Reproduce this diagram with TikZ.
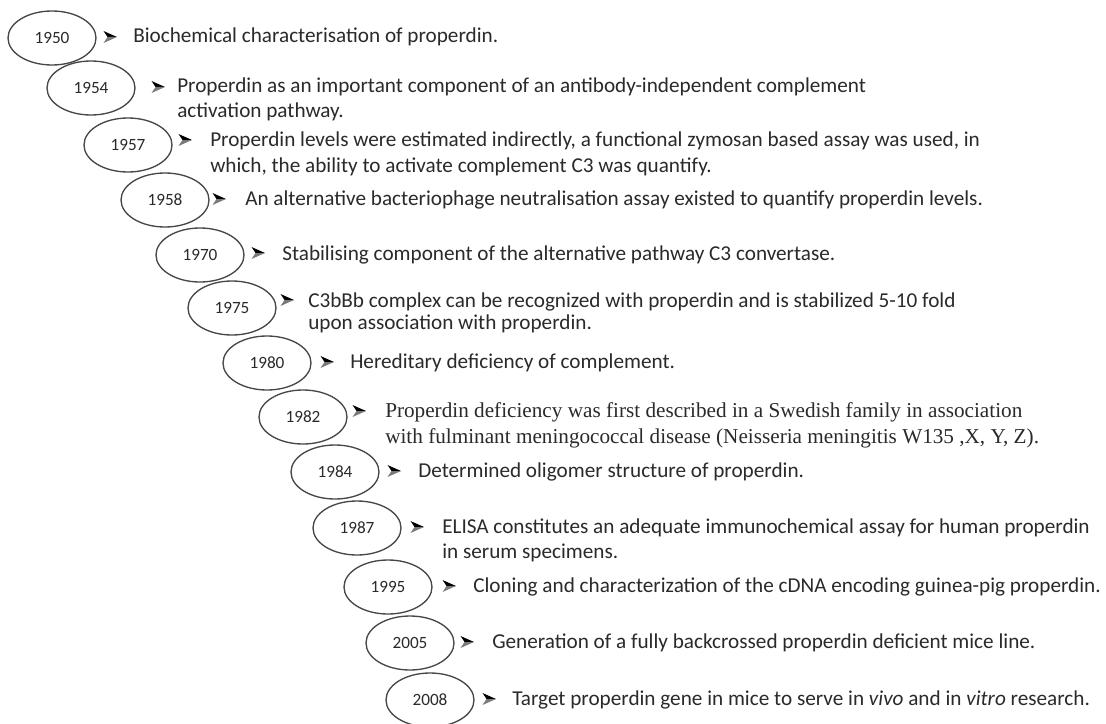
\documentclass[tikz,border=0pt]{standalone}
\usepackage{fontspec}
\setmainfont{Carlito}
\newfontfamily\timesf{Liberation Serif}
\usetikzlibrary{shapes.geometric}
\definecolor{ink}{HTML}{2A2A2A}
\definecolor{ring}{HTML}{474747}
\definecolor{ahlow}{HTML}{7A7A7A}
\newcommand{\twol}[3]{\vtop{\baselineskip=#1\hbox{#2}\hbox{#3}}}
\tikzset{
 year/.style={ellipse, draw=ring, line width=1pt, minimum width=66pt, minimum height=40.5pt, inner sep=0pt, font=\fontsize{12.9}{14}\selectfont, text=ink},
 item/.style={anchor=base west, inner sep=0pt, font=\fontsize{15.9}{19.5}\selectfont, text=ink},
 ahead/.pic={
   \fill[black] (7,0) -- (-6.5,-6) -- (-2.5,0) -- cycle;
   \fill[ahlow] (7,0) -- (-6.5,6) -- (-2.5,0) -- cycle;
 },
}
\begin{document}
\begin{tikzpicture}[x=0.75pt,y=-0.75pt]
\useasboundingbox[fill=white] (0,0) rectangle (1106,724);
% 1950
\node[year] (y1950) at (52,38) {1950};
\coordinate (b1950) at (110,37); \pic at (b1950) {ahead};
\node[item] (t1950) at (133,43) {Biochemical characterisation of properdin.};
% 1954
\node[year] (y1954) at (91,88) {1954};
\coordinate (b1954) at (158,87); \pic at (b1954) {ahead};
\node[item] (t1954) at (177,93) {\twol{18.75pt}{Properdin as an important component of an antibody-independent complement}{activation pathway.}};
% 1957
\node[year] (y1957) at (128,145) {1957};
\coordinate (b1957) at (185,140); \pic at (b1957) {ahead};
\node[item] (t1957) at (210,146) {\twol{20pt}{Properdin levels were estimated indirectly, a functional zymosan based assay was used, in}{which, the ability to activate complement C3 was quantify.}};
% 1958
\node[year] (y1958) at (165,200) {1958};
\coordinate (b1958) at (219,199); \pic at (b1958) {ahead};
\node[item] (t1958) at (245,205) {An alternative bacteriophage neutralisation assay existed to quantify properdin levels.};
% 1970
\node[year] (y1970) at (200,255) {1970};
\coordinate (b1970) at (258,253); \pic at (b1970) {ahead};
\node[item] (t1970) at (282,260) {Stabilising component of the alternative pathway C3 convertase.};
% 1975
\node[year] (y1975) at (232,308) {1975};
\coordinate (b1975) at (287,300); \pic at (b1975) {ahead};
\node[item] (t1975) at (308,307) {\twol{17pt}{C3bBb complex can be recognized with properdin and is stabilized 5-10 fold}{upon association with properdin.}};
% 1980
\node[year] (y1980) at (267,363) {1980};
\coordinate (b1980) at (327,362); \pic at (b1980) {ahead};
\node[item] (t1980) at (350,368) {Hereditary deficiency of complement.};
% 1982
\node[year] (y1982) at (303,417) {1982};
\coordinate (b1982) at (359,411); \pic at (b1982) {ahead};
\node[item, font=\timesf\fontsize{15.9}{19.5}\selectfont] (t1982) at (385,417) {\twol{19.5pt}{Properdin deficiency was first described in a Swedish family in association}{with fulminant meningococcal disease (Neisseria meningitis W135 ,X, Y, Z).}};
% 1984
\node[year] (y1984) at (335,472) {1984};
\coordinate (b1984) at (394,471); \pic at (b1984) {ahead};
\node[item] (t1984) at (418,477) {Determined oligomer structure of properdin.};
% 1987
\node[year] (y1987) at (357,528) {1987};
\coordinate (b1987) at (417,527); \pic at (b1987) {ahead};
\node[item] (t1987) at (442,533) {\twol{19pt}{ELISA constitutes an adequate immunochemical assay for human properdin}{in serum specimens.}};
% 1995
\node[year] (y1995) at (388,587) {1995};
\coordinate (b1995) at (449,586); \pic at (b1995) {ahead};
\node[item] (t1995) at (473,592) {Cloning and characterization of the cDNA encoding guinea-pig properdin.};
% 2005
\node[year] (y2005) at (410,643) {2005};
\coordinate (b2005) at (467,642); \pic at (b2005) {ahead};
\node[item] (t2005) at (492,648) {Generation of a fully backcrossed properdin deficient mice line.};
% 2008
\node[year] (y2008) at (430,700) {2008};
\coordinate (b2008) at (489,699); \pic at (b2008) {ahead};
\node[item] (t2008) at (512,705) {Target properdin gene in mice to serve in \textit{vivo} and in \textit{vitro} research.};
\end{tikzpicture}
\end{document}
